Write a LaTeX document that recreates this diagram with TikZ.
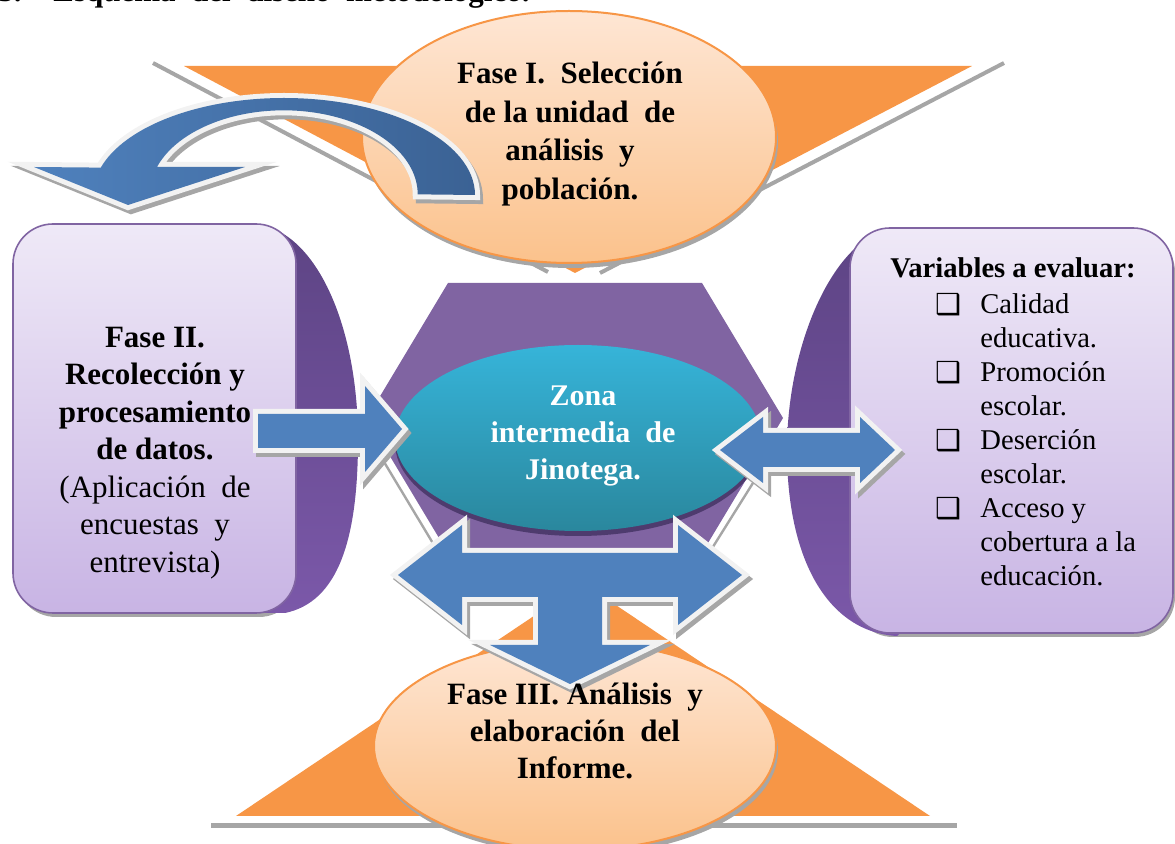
\documentclass[tikz,border=0pt]{standalone}
\usepackage{fontspec}
\setmainfont{Liberation Serif}
\newfontfamily\symfont{DejaVu Sans}
\definecolor{orng}{HTML}{F79646}
\definecolor{peachtop}{HTML}{FEE6D4}
\definecolor{peachbot}{HTML}{FBC28C}
\definecolor{hexpurple}{HTML}{8064A2}
\definecolor{abluel}{HTML}{4F81BD}
\definecolor{abluer}{HTML}{3B6294}
\definecolor{outl}{HTML}{F2F2F2}
\definecolor{shadowgray}{HTML}{A6A6A6}
\definecolor{tealtop}{HTML}{36B4D9}
\definecolor{tealbot}{HTML}{2A879D}
\definecolor{darkshadow}{HTML}{4E3B6E}
\definecolor{facetop}{HTML}{EFE9F7}
\definecolor{facebot}{HTML}{C8B4E4}
\definecolor{sidetop}{HTML}{5D4484}
\definecolor{sidebot}{HTML}{7B58A9}
\definecolor{boxborder}{HTML}{8064A2}

\newcommand{\CurvedArrowPath}{(475,195) arc[start angle=0, end angle=-163.6, x radius=191, y radius=97] -- (34,167) -- (128,205) -- (245,167) -- (157,167) arc[start angle=-161, end angle=0, x radius=134, y radius=84] -- cycle}
\newcommand{\LeftArrowPath}{(258,414) -- (365,414) -- (365,386) -- (402,429) -- (365,472) -- (365,448) -- (258,448) -- cycle}
\newcommand{\RightArrowPath}{(720,450) -- (763,417) -- (763,433) -- (860,433) -- (860,417) -- (895,450) -- (860,483) -- (860,467) -- (763,467) -- (763,483) -- cycle}
\newcommand{\BottomArrowPath}{(398,575) -- (462,525) -- (462,553) -- (678,553) -- (678,525) -- (742,575) -- (678,625) -- (678,597) -- (602,597) -- (602,645) -- (650,645) -- (570,684) -- (490,645) -- (538,645) -- (538,597) -- (462,597) -- (462,625) -- cycle}
\newcommand{\cb}{\makebox[22.5pt][l]{\raisebox{-0.5pt}{\symfont\fontsize{14.5}{14.5}\selectfont ❑}}}
\newcommand{\cbsp}{\hspace*{22.5pt}}

\tikzset{
  arrshadow/.style={draw=shadowgray, fill=shadowgray, line width=5pt, line join=miter, shift={(3,4)}},
  arroutline/.style={draw=outl, fill=outl, line width=5pt, line join=miter},
  arrfill/.style={fill=abluel},
  peachell/.style={top color=peachtop, bottom color=peachbot, draw=orng, line width=1pt},
  facebox/.style={top color=facetop, bottom color=facebot, draw=boxborder, line width=0.8pt, rounded corners=20pt},
  boxshadow/.style={fill=shadowgray, rounded corners=20pt},
  sideshape/.style={top color=sidetop, bottom color=sidebot},
  reflect/.style={draw=shadowgray, line width=2pt},
  boldtxt/.style={font=\bfseries\fontsize{15.5}{19}\selectfont, align=center, inner sep=0pt}
}

\begin{document}
\begin{tikzpicture}[x=0.5pt, y=-0.5pt]
\useasboundingbox (0,0) rectangle (1175,844);

% caption (cut at top)
\node[anchor=base east, inner sep=0pt, font=\bfseries\fontsize{15.5}{18}\selectfont] (capnum) at (22,2) {3.};
\node[anchor=base west, inner sep=0pt, font=\bfseries\fontsize{15.5}{18}\selectfont] (cap) at (53,2) {Esquema\ \ del\ \ diseño\ \ metodológico.};

% top triangle
\draw[reflect] (153,63) -- (548,272);
\draw[reflect] (1004,63) -- (600,273);
\fill[orng] (184,66) -- (972,66) -- (575,273) -- cycle;

% top ellipse
\fill[shadowgray] (571,142) ellipse [x radius=207, y radius=126];
\shade[peachell] (569,137) ellipse [x radius=207, y radius=126];

% curved arrow
\path[arrshadow] \CurvedArrowPath;
\path[arroutline] \CurvedArrowPath;
\shade[left color=abluel, right color=abluer] \CurvedArrowPath;

% left box
\path[boxshadow] (16,229) rectangle (299,617);
\shade[sideshape] (250,224) .. controls (312,224) and (358,320) .. (358,440) .. controls (358,540) and (338,602) .. (285,613) -- (250,613) -- cycle;
\shade[facebox] (13,224) rectangle (296,613);

% right box
\path[boxshadow] (853,232) rectangle (1175,637);
\shade[sideshape] (900,228) .. controls (838,228) and (787,340) .. (787,450) .. controls (787,560) and (828,632) .. (897,636) -- (900,633) -- cycle;
\shade[facebox] (850,228) rectangle (1173,633);

% hexagon
\draw[reflect, line width=1.2pt] (366,432) -- (437,550);
\draw[reflect, line width=1.2pt] (768,459) -- (711,550);
\fill[hexpurple] (448,283) -- (702,283) -- (783,418) -- (702,553) -- (448,553) -- (367,418) -- cycle;

% centre ellipse
\fill[darkshadow] (578,443) ellipse [x radius=183, y radius=93];
\shade[top color=tealtop, bottom color=tealbot] (578,438) ellipse [x radius=183, y radius=93];

% bottom triangle and ellipse
\draw[reflect, line width=2.5pt] (211,826) -- (957,826);
\fill[orng] (236,816) -- (930,816) -- (583,583) -- cycle;
\fill[shadowgray] (577,751) ellipse [x radius=201, y radius=104];
\shade[peachell] (575,746) ellipse [x radius=201, y radius=104];

% block arrows
\path[arrshadow] \LeftArrowPath;
\path[arroutline] \LeftArrowPath;
\path[arrfill] \LeftArrowPath;

\path[arrshadow] \RightArrowPath;
\path[arroutline] \RightArrowPath;
\path[arrfill] \RightArrowPath;

\path[arrshadow] \BottomArrowPath;
\path[arroutline] \BottomArrowPath;
\path[arrfill] \BottomArrowPath;

% texts
\node[boldtxt, font=\bfseries\fontsize{15.5}{19.25}\selectfont] (f1) at (570,134) {Fase I.\ \ Selección\\de la unidad\ \ de\\análisis\ \ y\\población.};
\node[align=center, inner sep=0pt, font=\fontsize{15.5}{18.75}\selectfont] (f2) at (155,453) {\textbf{Fase II.}\\\textbf{Recolección y}\\\textbf{procesamiento}\\\textbf{de datos.}\\(Aplicación\ \ de\\encuestas\ \ y\\entrevista)};
\node[boldtxt, font=\bfseries\fontsize{15}{18.5}\selectfont, text=white] (zona) at (583,436) {Zona\\intermedia\ \ de\\Jinotega.};
\node[boldtxt, font=\bfseries\fontsize{15.5}{18.5}\selectfont] (f3) at (575,731) {Fase III. Análisis\ \ y\\elaboración\ \ del\\Informe.};
\node[inner sep=0pt, font=\bfseries\fontsize{14.3}{17}\selectfont] (vh) at (1013,268) {Variables a evaluar:};
\node[anchor=west, align=left, inner sep=0pt, font=\fontsize{14.3}{17}\selectfont] (vl) at (935,440) {\cb Calidad\\\cbsp educativa.\\\cb Promoción\\\cbsp escolar.\\\cb Deserción\\\cbsp escolar.\\\cb Acceso y\\\cbsp cobertura a la\\\cbsp educación.};
\end{tikzpicture}
\end{document}
